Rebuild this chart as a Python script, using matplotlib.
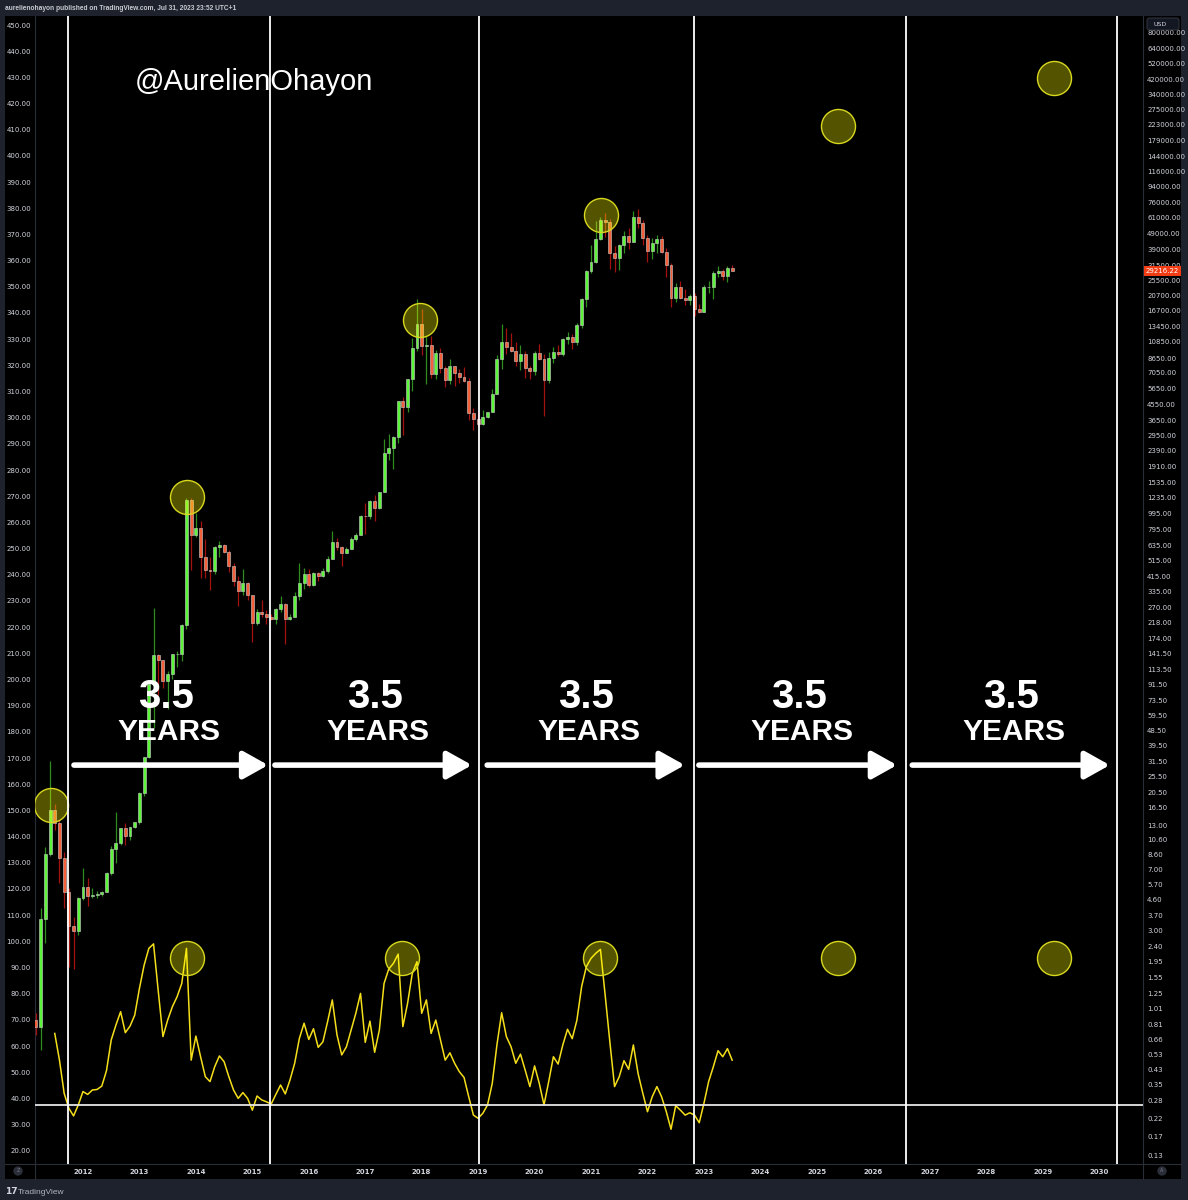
import numpy as np
import matplotlib
matplotlib.use('Agg')
import matplotlib.pyplot as plt
from matplotlib.patches import Rectangle, FancyBboxPatch
from matplotlib.lines import Line2D
from matplotlib.ticker import NullLocator

W, H = 1188, 1200

# monthly BTC candles, Mar 2011 .. Jul 2023
first_month = 2011 + 2 / 12.0
opens = [0.86, 0.78, 3.5, 8.7, 16.1, 13.4, 8.2, 5.1, 3.2, 2.97,
         4.72, 5.5, 4.86, 4.9, 4.95, 5.13, 6.7, 9.35, 10.1, 12.4, 11.2, 12.6,
         13.5, 20.4, 33.4, 93.0, 139, 129, 97, 106, 141, 141, 211, 1205,
         738, 813, 543, 453, 447, 624, 640, 582, 478, 386, 338, 378,
         320, 217, 254, 244, 236, 230, 263, 284, 230, 236, 314, 377,
         430, 368, 437, 416, 448, 531, 673, 624, 575, 609, 700, 740,
         966, 964, 1190, 1080, 1350, 2300, 2480, 2875, 4735, 4360, 6451, 9947,
         13880, 10221, 10326, 6926, 9240, 7500, 6390, 7730, 7030, 6626, 6300, 4020,
         3700, 3437, 3800, 4100, 5270, 8550, 10800, 10080, 9600, 8300, 9150, 7550,
         7200, 9350, 8540, 6410, 8630, 9450, 9140, 11330, 11650, 10780, 13800, 19700,
         28990, 33100, 45200, 58800, 57700, 37300, 35000, 41500, 47100, 43800, 61300, 57000,
         46200, 38500, 43200, 45500, 37700, 31800, 19950, 23300, 20050, 19420, 20500, 17170,
         16550, 23130, 23150, 28480, 29250, 27200, 30480]
closes = [0.78, 3.5, 8.7, 16.1, 13.4, 8.2, 5.1, 3.2, 2.97, 4.72,
          5.5, 4.86, 4.9, 4.95, 5.13, 6.7, 9.35, 10.1, 12.4, 11.2, 12.6, 13.5,
          20.4, 33.4, 93.0, 139, 129, 97, 106, 141, 141, 211, 1205, 738,
          813, 543, 453, 447, 624, 640, 582, 478, 386, 338, 378, 320,
          217, 254, 244, 236, 230, 263, 284, 230, 236, 314, 377, 430,
          368, 437, 416, 448, 531, 673, 624, 575, 609, 700, 740, 966,
          964, 1190, 1080, 1350, 2300, 2480, 2875, 4735, 4360, 6451, 9947, 13880,
          10221, 10326, 6926, 9240, 7500, 6390, 7730, 7030, 6626, 6300, 4020, 3700,
          3437, 3800, 4100, 5270, 8550, 10800, 10080, 9600, 8300, 9150, 7550, 7200,
          9350, 8540, 6410, 8630, 9450, 9140, 11330, 11650, 10780, 13800, 19700, 28990,
          33100, 45200, 58800, 57700, 37300, 35000, 41500, 47100, 43800, 61300, 57000, 46200,
          38500, 43200, 45500, 37700, 31800, 19950, 23300, 20050, 19420, 20500, 17170, 16550,
          23130, 23150, 28480, 29250, 27200, 30480, 29216.22]
highs = [0.95, 4.1, 9.6, 31.9, 17.5, 14.0, 8.9, 5.4, 3.6, 4.8,
         7.2, 6.2, 5.4, 5.2, 5.2, 6.8, 9.7, 15.6, 12.5, 13.3, 12.6, 13.6,
         20.5, 33.5, 95.7, 266, 140, 129, 111, 141, 146, 215, 1242, 1240,
         1000, 900, 700, 543, 630, 680, 650, 600, 500, 415, 460, 385,
         320, 265, 300, 260, 247, 267, 317, 286, 245, 332, 502, 465,
         462, 440, 440, 466, 550, 780, 705, 630, 620, 720, 755, 975,
         1150, 1200, 1290, 1350, 2790, 3000, 2930, 4770, 5000, 6460, 11400, 19666,
         17176, 11789, 11700, 9745, 9990, 7770, 8500, 7760, 7410, 7680, 6580, 4300,
         4070, 4200, 4100, 5600, 9070, 13880, 13200, 12320, 10900, 10370, 9500, 7750,
         9580, 10500, 9190, 9460, 10070, 10380, 11430, 12470, 12070, 14100, 19900, 29300,
         41950, 58350, 61800, 64900, 59600, 41300, 42400, 50500, 52900, 67000, 69000, 59100,
         47900, 45800, 48200, 47400, 40000, 32400, 24700, 25200, 22800, 21100, 21500, 18400,
         23960, 25250, 29200, 31000, 29850, 31400, 31800]
lows = [0.70, 0.57, 2.5, 8.4, 12.1, 5.8, 4.1, 1.8, 1.75, 2.8,
        4.6, 4.2, 4.7, 4.7, 4.85, 5.1, 6.5, 7.7, 9.9, 9.9, 10.6, 12.4,
        13.2, 19.5, 33.1, 50, 79, 88, 65, 100, 118, 128, 198, 455,
        720, 405, 405, 343, 430, 540, 570, 440, 360, 275, 320, 300,
        166, 212, 235, 215, 225, 215, 251, 162, 225, 235, 300, 350,
        355, 365, 390, 412, 435, 525, 600, 480, 570, 605, 680, 740,
        750, 915, 890, 1060, 1340, 2100, 1840, 2650, 2970, 4100, 5500, 9500,
        9000, 6000, 6600, 6430, 7030, 5750, 6070, 5880, 6110, 6200, 3650, 3200,
        3380, 3400, 3740, 4060, 5260, 7450, 9100, 9420, 7730, 7300, 6540, 6430,
        6870, 8450, 3850, 6150, 8110, 8900, 8970, 10550, 9880, 10380, 13220, 17600,
        28130, 32300, 45000, 47000, 30000, 28800, 29300, 37300, 39600, 43300, 53300, 42000,
        32900, 34300, 37200, 37600, 26700, 17600, 18800, 19600, 18200, 18200, 15500, 16300,
        16500, 21400, 19600, 26900, 25800, 24800, 28900]

# oscillator (left scale), Jul 2011 .. Jul 2023
rsi_start = 2011 + 6 / 12.0
rsi = [64.8, 54.6, 41.9, 36.2, 33.3, 37.5,
       42.6, 41.5, 43.2, 43.4, 44.7, 50.6, 62.3, 68.0, 73.1, 65.1, 67.6, 71.8,
       82.0, 90.9, 97.3, 99.0, 81.0, 63.6, 69.9, 75.0, 78.8, 83.9, 97.3, 54.6,
       63.8, 55.9, 48.3, 46.4, 52.1, 56.2, 54.0, 48.3, 43.2, 40.0, 42.2, 40.0,
       35.5, 40.9, 39.4, 38.7, 37.8, 41.5, 45.1, 41.7, 47.0, 53.4, 62.9, 68.7,
       62.5, 66.6, 59.5, 61.6, 69.3, 77.6, 64.2, 56.6, 59.7, 66.1, 72.5, 80.1,
       61.4, 69.5, 57.6, 66.1, 83.9, 89.4, 91.6, 95.1, 67.4, 76.3, 87.7, 92.2,
       72.5, 77.6, 64.8, 69.9, 62.3, 54.6, 57.4, 53.4, 50.2, 48.0, 40.6, 33.6,
       32.4, 34.3, 37.5, 45.7, 60.5, 72.7, 63.6, 59.7, 53.4, 56.9, 50.8, 44.5,
       52.4, 45.7, 37.5, 46.4, 55.9, 53.1, 60.4, 66.4, 62.8, 69.9, 82.7, 90.3,
       93.5, 95.4, 96.9, 79.5, 61.6, 44.5, 48.3, 54.4, 51.1, 60.4, 49.5, 42.0,
       34.9, 40.6, 44.5, 40.6, 34.9, 28.2, 37.2, 35.5, 33.6, 34.5, 33.6, 30.7,
       38.1, 46.4, 52.1, 58.2, 55.9, 59.0, 54.6]
rsi_level = 37.5

left_ticks = list(range(20, 460, 10))
right_ticks = [800000, 640000, 520000, 420000, 340000, 275000, 223000, 179000, 144000,
               116000, 94000, 76000, 61000, 49000, 39000, 31500, 25500, 20700, 16700,
               13450, 10850, 8650, 7050, 5650, 4550, 3650, 2950, 2390, 1910, 1535, 1235,
               995, 795, 635, 515, 415, 335, 270, 218, 174, 141.5, 113.5, 91.5, 73.5,
               59.5, 48.5, 39.5, 31.5, 25.5, 20.5, 16.5, 13.0, 10.6, 8.6, 7.0, 5.7, 4.6,
               3.7, 3.0, 2.4, 1.95, 1.55, 1.25, 1.01, 0.81, 0.66, 0.53, 0.43, 0.35,
               0.28, 0.22, 0.17, 0.13]
years = list(range(2012, 2031))

cycle_lines = [2011.73, 2015.31, 2019.015, 2022.82, 2026.58, 2030.32]
arrow_from = [2011.84, 2015.40, 2019.16, 2022.91, 2026.69]
arrow_to = [2015.28, 2018.89, 2022.66, 2026.42, 2030.19]
label_x = [2013.47, 2017.17, 2020.91, 2024.68, 2028.44]

top_cx = [2011.433, 2013.842, 2017.970, 2021.176, 2025.375, 2029.201]
top_cy = [17.2, 1250, 14720, 63400, 219000, 427000]
bot_cx = [2013.842, 2017.651, 2021.159, 2025.375, 2029.201]
bot_cy = [93.6] * 5

fig = plt.figure(figsize=(W / 100, H / 100), dpi=100, facecolor='#1e222d')
fig.add_artist(Rectangle((5 / W, 1 - 1179 / H), 1176 / W, 1163 / H,
                         transform=fig.transFigure, facecolor='black',
                         edgecolor='none', zorder=-5))

rect = [35 / W, 1 - 1164 / H, (1143 - 35) / W, (1164 - 16) / H]
ax = fig.add_axes(rect)
ax2 = ax.twinx()
ax.set_zorder(3)
ax2.set_zorder(2)
ax.patch.set_visible(False)
ax2.patch.set_visible(False)

ax.set_xlim(2011.150, 2030.778)
ax.set_ylim(14.93, 453.44)
ax2.set_yscale('log')
ax2.set_ylim(10 ** -0.9353, 10 ** 6.0055)

for a in (ax, ax2):
    for s in a.spines.values():
        s.set_visible(False)

# candles
o = np.array(opens)
c = np.array(closes)
hi = np.array(highs)
lo = np.array(lows)
x = first_month + np.arange(len(c)) / 12.0
up = c >= o
body_col = np.where(up, '#5cf53a', '#f5603a')
wick_col = np.where(up, '#2f8c1f', '#a3120f')
ax2.vlines(x, lo, hi, colors=wick_col, lw=0.9, zorder=2)
ax2.bar(x, np.abs(c - o), bottom=np.minimum(o, c), width=0.052, color=body_col,
        edgecolor='#cfcfcf', linewidth=0.4, zorder=3)
ax2.scatter(top_cx, top_cy, s=600, facecolor=(1, 1, 0, 0.33),
            edgecolor='#d8d820', linewidth=1, zorder=5)

# oscillator
rx = rsi_start + np.arange(len(rsi)) / 12.0
ax.plot(rx, rsi, color='#f5df1a', lw=1.1, zorder=2)
ax.axhline(rsi_level, color='#e6e6e6', lw=1.3, zorder=3)
ax.scatter(bot_cx, bot_cy, s=600, facecolor=(1, 1, 0, 0.33),
           edgecolor='#d8d820', linewidth=1, zorder=4)
for xv in cycle_lines:
    ax.axvline(xv, color='white', lw=1.3, zorder=5)

# annotations
ax.text(2012.921, 425.2, '@AurelienOhayon', color='white', fontsize=21,
        family='Liberation Sans', va='baseline', ha='left', zorder=6)
for i in range(len(label_x)):
    ax.text(label_x[i], 189.1, '3.5', color='white', fontsize=29,
            family='Liberation Sans', fontweight='bold', ha='center', va='baseline', zorder=6)
    ax.text(label_x[i] + 0.05, 176.9, 'YEARS', color='white', fontsize=21.5,
            family='Liberation Sans', fontweight='bold', ha='center', va='baseline', zorder=6)
    ax.annotate('', xy=(arrow_to[i], 167.3), xytext=(arrow_from[i], 167.3),
                arrowprops=dict(arrowstyle='-|>,head_length=0.75,head_width=0.42',
                                color='white', lw=4, shrinkA=0, shrinkB=0,
                                mutation_scale=20), zorder=6)

# axes ticks
ax.set_yticks(left_ticks)
ax.set_yticklabels(['%.2f' % v for v in left_ticks])
ax.tick_params(axis='y', length=0, pad=3, labelsize=5, labelcolor='#d1d4dc')
ax.set_xticks(years)
ax.set_xticklabels([str(y) for y in years])
ax.tick_params(axis='x', length=0, pad=3.5, labelsize=5, labelcolor='#d1d4dc')
ax2.set_yticks(right_ticks)
ax2.set_yticklabels(['%.2f' % v for v in right_ticks])
ax2.yaxis.set_minor_locator(NullLocator())
ax2.tick_params(axis='y', length=0, pad=3, labelsize=5, labelcolor='#d1d4dc')
for t in ax.get_xticklabels():
    t.set_fontweight('bold')

# panel separators
sep = '#2a2e39'
fig.add_artist(Line2D([35 / W, 35 / W], [1 - 16 / H, 1 - 1179 / H], color=sep, lw=0.8))
fig.add_artist(Line2D([1143 / W, 1143 / W], [1 - 16 / H, 1 - 1179 / H], color=sep, lw=0.8))
fig.add_artist(Line2D([5 / W, 1181 / W], [1 - 1164 / H, 1 - 1164 / H], color=sep, lw=0.8))

# price label and currency box
fig.text(1146 / W, 1 - 271 / H, '29216.22', color='white', fontsize=5, va='center',
         bbox=dict(boxstyle='square,pad=0.25', fc='#f23c14', ec='none'), zorder=10)
fig.add_artist(FancyBboxPatch((1147 / W, 1 - 30 / H), 32 / W, 12 / H,
                              boxstyle='round,pad=0,rounding_size=0.002',
                              transform=fig.transFigure, facecolor='#131722',
                              edgecolor='#3a3e4a', lw=0.6, zorder=10))
fig.text(1153 / W, 1 - 24 / H, 'USD', color='#d1d4dc', fontsize=4.5, va='center', zorder=11)

fig.text(18 / W, 1 - 1171 / H, 'Z', color='#787b86', fontsize=3.5, ha='center', va='center',
         bbox=dict(boxstyle='circle,pad=0.45', fc='#2a2e39', ec='none'))
fig.text(1162 / W, 1 - 1171 / H, 'A', color='#787b86', fontsize=3.5, ha='center', va='center',
         bbox=dict(boxstyle='circle,pad=0.45', fc='#2a2e39', ec='none'))

# header / footer
fig.text(5 / W, 1 - 8 / H, 'aurelienohayon published on TradingView.com, Jul 31, 2023 23:52 UTC+1',
         color='#c8cad0', fontsize=4.8, family='Liberation Sans', fontweight='bold', va='center')
fig.text(5 / W, 1 - 1192 / H, '17', color='#d1d4dc', fontsize=6.5, fontweight='bold', va='center')
fig.text(18 / W, 1 - 1192 / H, 'TradingView', color='#b2b5be', fontsize=6,
         family='Liberation Sans', va='center')

fig.savefig('out.png', dpi=100, facecolor=fig.get_facecolor())
